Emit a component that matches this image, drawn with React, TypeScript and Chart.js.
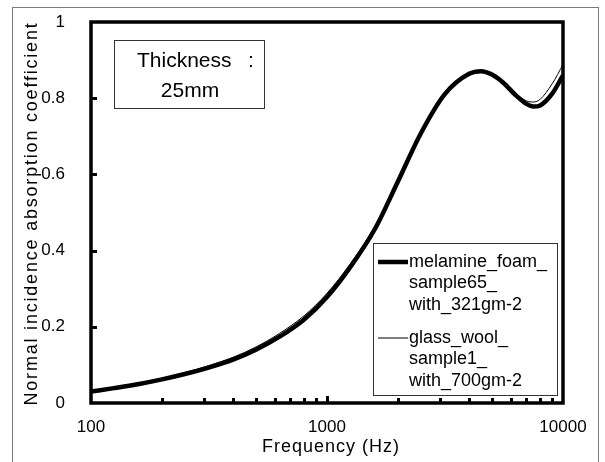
import React, { useEffect, useRef } from "react";
import { Chart, registerables } from "chart.js";

Chart.register(...registerables);

const FREQUENCIES = [100, 125, 160, 200, 250, 315, 400, 500, 630, 800, 1000, 1250, 1600, 2000, 2500, 3150, 4000, 4500, 5000, 5600, 6300, 7000, 7500, 8000, 9000, 10000];
const MELAMINE = [0.030, 0.039, 0.050, 0.062, 0.076, 0.093, 0.114, 0.140, 0.174, 0.219, 0.278, 0.355, 0.458, 0.582, 0.708, 0.810, 0.864, 0.871, 0.862, 0.840, 0.808, 0.785, 0.778, 0.781, 0.812, 0.860];
const GLASS = [0.030, 0.040, 0.052, 0.065, 0.080, 0.098, 0.120, 0.147, 0.183, 0.229, 0.288, 0.364, 0.465, 0.586, 0.710, 0.810, 0.862, 0.869, 0.860, 0.842, 0.812, 0.793, 0.790, 0.797, 0.838, 0.888];
const SERIES_NAMES = [["melamine_foam_", "sample65_", "with_321gm-2"], ["glass_wool_", "sample1_", "with_700gm-2"]];
const Y_TICKS = [0.2, 0.4, 0.6, 0.8];
const X_MINOR = [200, 300, 400, 500, 600, 700, 800, 900, 1000, 2000, 3000, 4000, 5000, 6000, 7000, 8000, 9000];
const X_TITLE = "Frequency (Hz)";
const Y_TITLE = "Normal incidence absorption coefficient";
const NOTE = ["Thickness", ":", "25mm"];

const FONT = '"Liberation Sans", Arial, sans-serif';

const decor = {
  id: "decor",
  beforeDraw(chart: any) {
    const ctx = chart.ctx;
    ctx.save();
    ctx.fillStyle = "#fff";
    ctx.fillRect(0, 0, chart.width, chart.height);
    ctx.strokeStyle = "#7a7a7a";
    ctx.lineWidth = 1;
    ctx.strokeRect(12.5, 7.5, 586, 480);
    ctx.restore();
  },
  afterDraw(chart: any) {
    const ctx = chart.ctx;
    const a = chart.chartArea;
    const xs = chart.scales.x;
    const ys = chart.scales.y;
    ctx.save();
    // ticks inward
    ctx.strokeStyle = "#000";
    ctx.lineWidth = 3;
    for (const v of Y_TICKS) {
      const y = Math.round(ys.getPixelForValue(v)) + 0.5;
      ctx.beginPath();
      ctx.moveTo(a.left, y);
      ctx.lineTo(a.left + 6, y);
      ctx.stroke();
    }
    for (const f of X_MINOR) {
      const x = Math.round(xs.getPixelForValue(f)) + 0.5;
      ctx.beginPath();
      ctx.moveTo(x, a.bottom);
      ctx.lineTo(x, a.bottom - (f === 1000 ? 7 : 5));
      ctx.stroke();
    }
    // frame
    ctx.lineWidth = 3.5;
    ctx.strokeRect(a.left, a.top, a.right - a.left, a.bottom - a.top);

    // axis titles
    ctx.fillStyle = "#000";
    ctx.font = `18px ${FONT}`;
    ctx.textAlign = "center";
    ctx.textBaseline = "middle";
    (ctx as any).letterSpacing = "1px";
    ctx.fillText(X_TITLE, (a.left + a.right) / 2 + 4, 447);
    ctx.save();
    ctx.translate(32, (a.top + a.bottom) / 2 + 1);
    ctx.rotate(-Math.PI / 2);
    (ctx as any).letterSpacing = "1.8px";
    ctx.fillText(Y_TITLE, 0, 0);
    ctx.restore();
    (ctx as any).letterSpacing = "0px";

    // note box
    ctx.fillStyle = "#fff";
    ctx.fillRect(114.5, 40.5, 150, 68);
    ctx.strokeStyle = "#333";
    ctx.lineWidth = 1;
    ctx.strokeRect(114.5, 40.5, 150, 68);
    ctx.fillStyle = "#000";
    ctx.font = `21px ${FONT}`;
    ctx.textAlign = "left";
    ctx.fillText(NOTE[0], 137, 61);
    ctx.fillText(NOTE[1], 248, 61);
    ctx.textAlign = "center";
    ctx.fillText(NOTE[2], 190, 91);

    // legend
    ctx.fillStyle = "#fff";
    ctx.fillRect(373.5, 243.5, 184, 152);
    ctx.strokeStyle = "#333";
    ctx.lineWidth = 1;
    ctx.strokeRect(373.5, 243.5, 184, 152);
    const widths = [4.5, 1];
    const starts = [262, 338];
    ctx.strokeStyle = "#000";
    ctx.font = `18px ${FONT}`;
    ctx.textAlign = "left";
    ctx.fillStyle = "#000";
    SERIES_NAMES.forEach((lines, i) => {
      ctx.lineWidth = widths[i];
      ctx.beginPath();
      ctx.moveTo(378, starts[i]);
      ctx.lineTo(408, starts[i]);
      ctx.stroke();
      lines.forEach((t, j) => ctx.fillText(t, 409, starts[i] + j * 21.5));
    });
    ctx.restore();
  },
};

export default function App() {
  const ref = useRef<HTMLCanvasElement>(null);
  useEffect(() => {
    const chart = new Chart(ref.current!, {
      type: "line",
      data: {
        datasets: [
          {
            label: SERIES_NAMES[0].join(""),
            data: FREQUENCIES.map((f, i) => ({ x: f, y: MELAMINE[i] })),
            borderColor: "#000",
            borderWidth: 4.5,
            pointRadius: 0,
            cubicInterpolationMode: "monotone",
            order: 1,
          },
          {
            label: SERIES_NAMES[1].join(""),
            data: FREQUENCIES.map((f, i) => ({ x: f, y: GLASS[i] })),
            borderColor: "#000",
            borderWidth: 1,
            pointRadius: 0,
            cubicInterpolationMode: "monotone",
            order: 0,
          },
        ],
      },
      options: {
        animation: false,
        responsive: false,
        events: [],
        layout: { padding: { left: 0, top: 22, right: 42, bottom: 0 } },
        plugins: { legend: { display: false }, tooltip: { enabled: false } },
        scales: {
          x: {
            type: "logarithmic",
            min: 100,
            max: 10000,
            grid: { display: false, drawTicks: false },
            border: { display: false },
            afterFit: (s: any) => {
              s.height = 59;
              s.paddingLeft = 0;
              s.paddingRight = 0;
            },
            afterBuildTicks: (s: any) => { s.ticks = [100, 1000, 10000].map((v) => ({ value: v })); },
            ticks: {
              autoSkip: false,
              maxRotation: 0,
              padding: 14,
              color: "#000",
              font: { family: FONT, size: 17 },
              callback: (v: any) => String(v),
            },
          },
          y: {
            min: 0,
            max: 1,
            grid: { display: false, drawTicks: false },
            border: { display: false },
            afterFit: (s: any) => {
              s.width = 91;
              s.paddingTop = 0;
              s.paddingBottom = 0;
            },
            ticks: {
              stepSize: 0.2,
              padding: 26,
              color: "#000",
              font: { family: FONT, size: 17 },
              callback: (v: any) => String(Math.round(v * 10) / 10),
            },
          },
        },
      },
      plugins: [decor],
    });
    return () => chart.destroy();
  }, []);
  return (
    <div style={{ position: "absolute", left: 0, top: 0, width: 605, height: 462, overflow: "hidden" }}>
      <canvas ref={ref} width={605} height={462} style={{ display: "block" }} />
    </div>
  );
}
